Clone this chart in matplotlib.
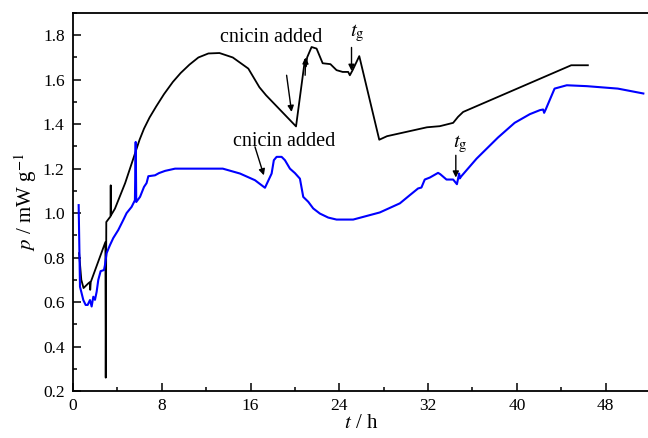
import matplotlib
matplotlib.use('Agg')
import matplotlib.pyplot as plt
from matplotlib.ticker import MultipleLocator

plt.rcParams['font.family'] = ['Liberation Serif', 'DejaVu Serif']
plt.rcParams['mathtext.fontset'] = 'stix'

# black curve (t in h, p in mW/g)
t_black = [0.55, 0.75, 0.95, 1.4, 1.53, 1.55, 1.6, 2.92, 2.95, 3.0, 3.3, 3.38, 3.40, 3.42,
           3.78, 4.7, 5.6, 6.0, 6.4, 6.9, 7.5, 8.2, 9.0, 9.7, 10.5, 11.3, 12.2, 13.2, 14.4, 15.8,
           16.8, 17.4, 20.1, 20.9, 21.0, 21.1, 21.5, 21.95, 22.5, 23.2, 23.75, 24.3, 24.8,
           24.95, 25.2, 25.8, 27.6, 28.3, 31.9, 33.06, 34.26, 34.7, 35.16, 44.9, 46.4]
p_black = [0.82, 0.70, 0.663, 0.685, 0.69, 0.655, 0.69, 0.87, 0.26, 0.96, 0.98, 0.985, 1.125, 0.99,
           1.02, 1.135, 1.27, 1.33, 1.38, 1.43, 1.48, 1.535, 1.59, 1.63, 1.668, 1.70, 1.718, 1.72, 1.70, 1.65,
           1.566, 1.53, 1.39, 1.69, 1.66, 1.70, 1.747, 1.74, 1.674, 1.67, 1.643, 1.635, 1.635,
           1.62, 1.643, 1.706, 1.33, 1.346, 1.386, 1.391, 1.406, 1.433, 1.455, 1.665, 1.665]

# blue curve
t_blue = [0.51, 0.63, 0.93, 1.14, 1.32, 1.53, 1.68, 1.83, 1.98, 2.13, 2.28, 2.49, 2.79, 2.88,
          3.03, 3.33, 3.63, 4.08, 4.53, 4.83, 5.28, 5.58, 5.65, 5.70, 6.04, 6.4, 6.63, 6.79,
          7.39, 7.75, 8.3, 9.2, 13.5, 15.05, 16.4, 17.3, 17.9, 18.1, 18.35, 18.8, 19.1, 19.55,
          20.0, 20.45, 20.75, 21.2, 21.65, 22.25, 23.0, 23.75, 25.25, 26.45, 27.65, 29.46,
          30.36, 31.1, 31.4, 31.7, 32.16, 32.9, 33.1, 33.66, 34.26, 34.6, 34.8, 34.86, 35.0,
          36.37, 38.3, 39.8, 41.17, 42.07, 42.37, 42.46, 42.6, 43.4, 44.5, 46.3, 49.1, 51.4]
p_blue = [1.036, 0.669, 0.609, 0.587, 0.587, 0.609, 0.58, 0.624, 0.61, 0.646, 0.70, 0.739, 0.744, 0.766,
          0.82, 0.856, 0.888, 0.924, 0.969, 1.0, 1.028, 1.058, 1.32, 1.05, 1.073, 1.118, 1.135, 1.166,
          1.17, 1.18, 1.19, 1.20, 1.20, 1.178, 1.148, 1.114, 1.178, 1.238, 1.253, 1.253, 1.238, 1.20,
          1.18, 1.155, 1.073, 1.051, 1.021, 0.998, 0.98, 0.971, 0.971, 0.987, 1.003, 1.044,
          1.081, 1.111, 1.115, 1.151, 1.16, 1.181, 1.175, 1.151, 1.151, 1.13, 1.178, 1.156, 1.166,
          1.245, 1.34, 1.406, 1.445, 1.463, 1.466, 1.451, 1.466, 1.56, 1.575, 1.571, 1.56, 1.538]

fig = plt.figure(figsize=(6.48, 4.38), dpi=100)
ax = fig.add_axes([73 / 648, 47 / 438, 577 / 648, 378 / 438])

ax.plot(t_black, p_black, color='black', lw=1.3)
ax.plot(t_blue, p_blue, color='#0000ff', lw=1.5)

ax.set_xlim(0, 52)
ax.set_ylim(0.2, 1.9)
ax.xaxis.set_major_locator(MultipleLocator(8))
ax.xaxis.set_minor_locator(MultipleLocator(4))
ax.yaxis.set_major_locator(MultipleLocator(0.2))
ax.yaxis.set_minor_locator(MultipleLocator(0.1))
ax.tick_params(which='both', direction='in', top=False, right=False, labelsize=12.5, width=1.1)
ax.tick_params(which='major', length=6)
ax.tick_params(which='minor', length=3)
ax.tick_params(axis='x', pad=5)
ax.tick_params(axis='y', pad=6)
ax.yaxis.set_major_formatter(matplotlib.ticker.FormatStrFormatter('%.1f'))
for s in ax.spines.values():
    s.set_linewidth(1.3)
ax.spines['right'].set_visible(False)

ax.set_xlabel(r'$t$ / h', fontsize=15, labelpad=0)
ax.set_ylabel(r'$p$ / mW g$^{-1}$', fontsize=15, labelpad=3)

arr = dict(arrowstyle='-|>', color='black', lw=1.0, mutation_scale=9, shrinkA=0, shrinkB=0)
ax.text(17.85, 1.79, 'cnicin added', fontsize=14.5, ha='center', va='center')
ax.annotate('', xy=(19.7, 1.455), xytext=(19.25, 1.62), arrowprops=arr)
ax.annotate('', xy=(20.97, 1.70), xytext=(20.92, 1.62), arrowprops=arr)
ax.text(25.6, 1.81, r'$t_{\rm g}$', fontsize=15, ha='center', va='center')
ax.annotate('', xy=(25.1, 1.64), xytext=(25.1, 1.745), arrowprops=arr)

ax.text(19.0, 1.324, 'cnicin added', fontsize=14.5, ha='center', va='center')
ax.annotate('', xy=(17.2, 1.17), xytext=(16.4, 1.298), arrowprops=arr)
ax.text(34.95, 1.31, r'$t_{\rm g}$', fontsize=15, ha='center', va='center')
ax.annotate('', xy=(34.5, 1.16), xytext=(34.5, 1.26), arrowprops=arr)

fig.savefig('out.png', dpi=100)
